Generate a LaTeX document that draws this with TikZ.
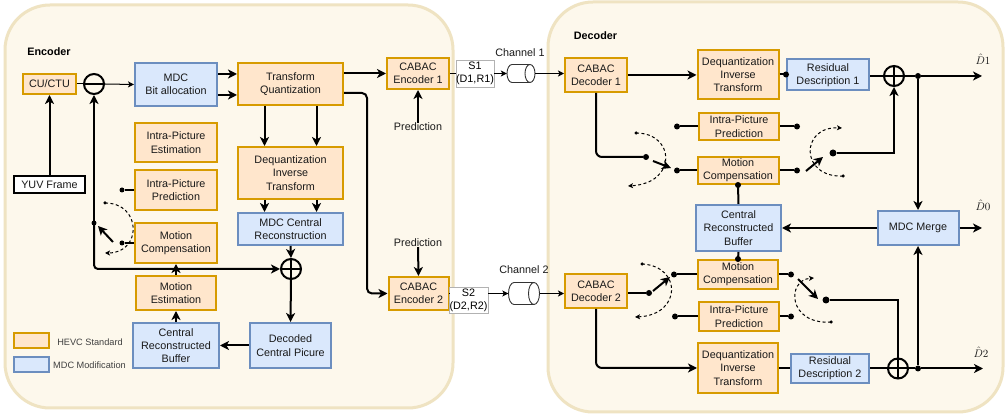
\documentclass[tikz,border=0pt]{standalone}
\usepackage{fontspec}
\setmainfont{Liberation Sans}
\usetikzlibrary{arrows.meta,calc}
\definecolor{hevcf}{HTML}{FFE6CC}
\definecolor{hevcd}{HTML}{D79B00}
\definecolor{mdcf}{HTML}{DAE8FC}
\definecolor{mdcd}{HTML}{6C8EBF}
\definecolor{panelf}{HTML}{FDF8EC}
\definecolor{paneld}{HTML}{EFE3C2}
\begin{document}
\begin{tikzpicture}[x=1pt,y=-1pt,font=\fontsize{10.8}{13.3}\selectfont,
 box/.style={draw,line width=2pt,align=center,inner sep=0pt,text=black!90},
 hevc/.style={box,draw=hevcd,fill=hevcf},
 mdc/.style={box,draw=mdcd,fill=mdcf},
 wh/.style 2 args={minimum width=#1pt,minimum height=#2pt},
 conn/.style={line width=2pt},
 sconn/.style={line width=1.5pt},
 arr/.style={-{Stealth[length=9pt,width=9pt,inset=2.5pt]}},
 tarr/.style={-{Stealth[length=6pt,width=6pt,inset=1.5pt]}},
 darr/.style={-{Stealth[length=5pt,width=5pt,inset=1.2pt]}},
 thinl/.style={line width=1pt},
 dsh/.style={line width=1pt,dash pattern=on 3pt off 2.5pt},
 sumc/.style={circle,draw,line width=2pt,minimum size=20pt,inner sep=0pt},
 dotc/.style={circle,fill,inner sep=0pt,minimum size=6pt},
 sdot/.style={circle,fill,inner sep=0pt,minimum size=3.5pt},
 lbl/.style={inner sep=0pt,text=black!90},
 slab/.style={draw=black!30,fill=white,line width=0.8pt,align=center,inner sep=0pt},
 title/.style={inner sep=0pt,font=\fontsize{10.8}{13}\selectfont\bfseries},
 leg/.style={inner sep=0pt,text=black!75,font=\fontsize{9.2}{11}\selectfont}
]
\useasboundingbox (0,0) rectangle (1005,419);
\fill[white] (0,0) rectangle (1005,419);
% panels
\draw[draw=paneld,fill=panelf,line width=3pt,rounded corners=45pt] (5,5) rectangle (453,408);
\draw[draw=paneld,fill=panelf,line width=3pt,rounded corners=45pt] (548,2) rectangle (1003,412);

% ===== Encoder =====
\node[title] (enclab) at (49,52) {Encoder};
\node[hevc,wh={53}{20}] (cu) at (49.5,84) {CU/CTU};
\node[sumc] (minus) at (94,84) {};
\draw[line width=2pt] (minus.west) -- (minus.east);
\node[box,draw=black,fill=white,wh={71}{17}] (yuv) at (49.5,185) {YUV Frame};
\node[mdc,wh={82}{43}] (mdcb) at (176,84.5) {MDC\\Bit allocation};
\node[hevc,wh={82}{39}] (ipe) at (176,142.5) {Intra-Picture\\Estimation};
\node[hevc,wh={82}{40}] (ipp) at (176,190) {Intra-Picture\\Prediction};
\node[hevc,wh={82}{40}] (mc) at (176,243) {Motion\\Compensation};
\node[hevc,wh={80}{34}] (me) at (176,293) {Motion\\Estimation};
\node[mdc,wh={86}{45}] (crb) at (176,345.5) {Central\\Reconstructed\\Buffer};
\node[hevc,wh={105}{42}] (tq) at (290.5,84) {Transform\\Quantization};
\node[hevc,wh={105}{52}] (dit) at (290.5,173) {Dequantization\\Inverse\\Transform};
\node[mdc,wh={105}{32}] (mcr) at (290.5,229) {MDC Central\\Reconstruction};
\node[sumc] (plus) at (291,269) {};
\draw[line width=2pt] (plus.west) -- (plus.east) (plus.north) -- (plus.south);
\node[mdc,wh={81}{45}] (dcp) at (290.5,345.5) {Decoded\\Central Picure};
\node[hevc,wh={62}{31}] (ce1) at (418,73.5) {CABAC\\Encoder 1};
\node[hevc,wh={60}{33}] (ce2) at (418.5,293.5) {CABAC\\Encoder 2};
\node[lbl] (pr1) at (418,127) {Prediction};
\node[lbl] (pr2) at (418,243) {Prediction};

% legend
\node[hevc,wh={35}{15}] (lg1) at (31.5,340.5) {};
\node[mdc,wh={35}{15}] (lg2) at (31.5,364.5) {};
\node[leg] (lgt1) at (90,342) {HEVC Standard};
\node[leg] (lgt2) at (89.5,365) {MDC Modification};

% encoder connectors
\draw[thinl] (cu.east) -- (minus.west);
\draw[thinl,tarr] (minus.east) -- (mdcb.west);
\draw[conn,arr] (yuv.north) -- (cu.south);
\draw[conn,arr] ([yshift=10.5pt]mdcb.east) -- ([yshift=10.5pt]mdcb.east -| tq.west);
\draw[conn,arr] ([yshift=-10.5pt]mdcb.east) -- ([yshift=-10.5pt]mdcb.east -| tq.west);
\draw[conn,arr] ([xshift=-26pt]tq.south) -- ([xshift=-26pt]tq.south |- dit.north);
\draw[conn,arr] ([xshift=26pt]tq.south) -- ([xshift=26pt]tq.south |- dit.north);
\draw[conn,arr] ([xshift=-26pt]dit.south) -- ([xshift=-26pt]dit.south |- mcr.north);
\draw[conn,arr] ([xshift=26pt]dit.south) -- ([xshift=26pt]dit.south |- mcr.north);
\draw[conn,arr] (mcr.south) -- (plus.north);
\draw[conn,arr] (plus.south) -- (dcp.north);
\draw[conn,arr] (dcp.west) -- (crb.east);
\draw[conn,arr] (crb.north) -- (me.south);
\draw[conn,arr] (me.north) -- (mc.south);
\draw[conn,arr] (tq.east |- ce1.west) -- (ce1.west);
\draw[conn,arr,rounded corners=5pt] ([yshift=-9pt]tq.east) -- ++(23,0) |- (ce2.west);
\draw[conn,arr] (pr1.north) -- (ce1.south);
\draw[conn,arr] (pr2.south) -- (ce2.north);

% encoder switch
\node[dotc,minimum size=5pt] (eswp) at (94,223) {};
\node[dotc,minimum size=5pt] (e1) at (122,190) {};
\node[dotc,minimum size=5pt] (e2) at (122,243) {};
\draw[sconn] (ipp.west) -- (e1);
\draw[sconn] (mc.west) -- (e2);
\draw[conn,arr] (minus.south |- eswp) -- (minus.south);
\draw[conn,arr,rounded corners=4pt] (minus.south |- eswp) |- (plus.west);
\coordinate (ea) at (113,242);
\coordinate (eb) at (98,226);
\draw[conn,arr] (ea) -- (eb);
\node[sdot] (ed1) at (105,203) {};
\coordinate (ed2) at (105,253);
\draw[dsh,darr] (ed1.center) .. controls (142,203) and (142,253) .. (ed2);

% S labels and channels
\node[slab,wh={38}{27}] (s1) at (475,73.5) {S1\\(D1,R1)};
\node[slab,wh={39}{26}] (s2) at (468.5,300) {S2\\(D2,R2)};
\node[inner sep=0pt,wh={28}{18}] (ch1) at (521,73.5) {};
\node[inner sep=0pt,wh={31}{22}] (ch2) at (524,293.5) {};
% cylinder 1
\draw[fill=white,draw=black!80,line width=0.9pt] (512,64.5) -- (530,64.5) arc[start angle=270,end angle=450,x radius=5,y radius=9] -- (512,82.5) arc[start angle=90,end angle=270,x radius=5,y radius=9] -- cycle;
\draw[draw=black!80,line width=0.9pt] (530,64.5) arc[start angle=270,end angle=90,x radius=5,y radius=9];
% cylinder 2
\draw[fill=white,draw=black!80,line width=0.9pt] (514,282.5) -- (534,282.5) arc[start angle=270,end angle=450,x radius=5.5,y radius=11] -- (514,304.5) arc[start angle=90,end angle=270,x radius=5.5,y radius=11] -- cycle;
\draw[draw=black!80,line width=0.9pt] (534,282.5) arc[start angle=270,end angle=90,x radius=5.5,y radius=11];
\node[lbl] (ch1l) at (520,53) {Channel 1};
\node[lbl] (ch2l) at (524,270) {Channel 2};
\draw[thinl] (ce1.east) -- (s1.west);
\draw[thinl,tarr] (s1.east) -- (ch1.west);
\draw[thinl] (ce2.east) -- (s2.west |- ce2.east);
\draw[thinl,tarr] (s2.east |- ce2.east) -- (ch2.west);

% ===== Decoder =====
\node[title] (declab) at (595.5,36) {Decoder};
\node[hevc,wh={62}{34}] (cd1) at (596,75) {CABAC\\Decoder 1};
\node[hevc,wh={62}{34}] (cd2) at (596,291) {CABAC\\Decoder 2};
\node[hevc,wh={81}{49}] (dit1) at (738,74.5) {Dequantization\\Inverse\\Transform};
\node[mdc,wh={82}{31}] (res1) at (828,75) {Residual\\Description 1};
\node[sumc] (pl1) at (894,76) {};
\draw[line width=2pt] (pl1.west) -- (pl1.east) (pl1.north) -- (pl1.south);
\node[hevc,wh={80}{27}] (ipp1) at (739,126.5) {Intra-Picture\\Prediction};
\node[hevc,wh={81}{27}] (mc1) at (738,170.5) {Motion\\Compensation};
\node[mdc,wh={85}{46}] (crbd) at (738.5,228) {Central\\Reconstructed\\Buffer};
\node[hevc,wh={80}{29}] (mc2) at (738,274.5) {Motion\\Compensation};
\node[hevc,wh={80}{29}] (ipp2) at (739,316.5) {Intra-Picture\\Prediction};
\node[hevc,wh={80}{50}] (dit2) at (738,368) {Dequantization\\Inverse\\Transform};
\node[mdc,wh={78}{29}] (res2) at (830,368.5) {Residual\\Description 2};
\node[sumc] (pl2) at (898,368.5) {};
\draw[line width=2pt] (pl2.west) -- (pl2.east) (pl2.north) -- (pl2.south);
\node[mdc,wh={81}{34}] (merge) at (918,228) {MDC Merge};
\node[lbl] (dh1) at (983,59) {$\hat{D}1$};
\node[lbl] (dh0) at (983,205) {$\hat{D}0$};
\node[lbl] (dh2) at (981,352) {$\hat{D}2$};

\draw[thinl,tarr] (ch1.east) -- (cd1.west |- ch1.east);
\draw[thinl,tarr] (ch2.east) -- (cd2.west |- ch2.east);

% decoder 1 chain
\draw[conn,arr] (cd1.east) -- (cd1.east -| dit1.west);
\draw[conn] (dit1.east) -- (dit1.east -| res1.west);
\node[dotc] (r1d) at (res1.west |- dit1.east) {};
\draw[conn] (res1.east |- pl1.west) -- (pl1.west);
\node[dotc] (o1) at (918,76) {};
\coordinate (o1e) at (982,76);
\draw[conn] (pl1.east) -- (o1);
\draw[conn,arr] (o1) -- (o1e);
\draw[conn,arr] (o1) -- (merge.north);

% decoder 1 switches
\node[dotc] (d1i) at (677,126.5) {};
\node[dotc] (d1m) at (677,170.5) {};
\node[dotc] (d1oi) at (797,126.5) {};
\node[dotc] (d1om) at (797,170.5) {};
\draw[conn] (ipp1.west) -- (d1i);
\draw[conn] (mc1.west) -- (d1m);
\draw[conn] (ipp1.east) -- (d1oi);
\draw[conn] (mc1.east) -- (d1om);
\node[dotc] (d1a) at (646,157) {};
\draw[conn,rounded corners=6pt] (cd1.south) |- (d1a);
\coordinate (s1a) at (653,161);
\coordinate (s1b) at (671,168);
\draw[conn,arr] (s1a) -- (s1b);
\node[sdot] (dd1) at (636,133) {};
\coordinate (dd1e) at (628,186);
\draw[dsh,darr] (dd1.center) .. controls (675,133) and (678,183) .. (dd1e);
\node[dotc,minimum size=7pt] (d1b) at (833,153) {};
\coordinate (s1c) at (806,171);
\coordinate (s1d) at (823,157);
\draw[conn,arr] (s1c) -- (s1d);
\draw[conn,arr] (d1b) -| (pl1.south);
\node[sdot] (dd2) at (843,176) {};
\coordinate (dd2e) at (842,128);
\draw[dsh,darr] (dd2.center) .. controls (800,178) and (800,126) .. (dd2e);

% central buffer links
\draw[conn] (crbd.north) -- (mc1.south);
\node[dotc] (cb1) at (mc1.south) {};
\draw[conn] (crbd.south) -- (mc2.north);
\node[dotc] (cb2) at (mc2.north) {};
\draw[conn,arr] (merge.west) -- (crbd.east);
\coordinate (o0e) at (982,228);
\draw[conn,arr] (merge.east) -- (o0e);

% decoder 2 switches
\node[dotc] (d2a) at (649,293) {};
\draw[conn] (cd2.east |- d2a) -- (d2a);
\coordinate (s2a) at (653,291);
\coordinate (s2b) at (670,277);
\draw[conn,arr] (s2a) -- (s2b);
\node[dotc] (d2m) at (674,274.5) {};
\node[dotc] (d2i) at (675,316.5) {};
\draw[conn] (mc2.west) -- (d2m);
\draw[conn] (ipp2.west) -- (d2i);
\node[sdot] (dd3) at (642,264) {};
\coordinate (dd3e) at (635,317);
\draw[dsh,darr] (dd3.center) .. controls (682,266) and (682,315) .. (dd3e);
\draw[conn,arr,rounded corners=6pt] (cd2.south) |- (dit2.west);
\node[dotc] (d2om) at (791,274.5) {};
\node[dotc] (d2oi) at (791,316.5) {};
\draw[conn] (mc2.east) -- (d2om);
\draw[conn] (ipp2.east) -- (d2oi);
\coordinate (s2c) at (798,279);
\coordinate (s2d) at (818,299);
\draw[conn,arr] (s2c) -- (s2d);
\node[dotc,minimum size=7pt] (d2b) at (826,300) {};
\draw[conn] (d2b) -| (pl2.north);
\node[sdot] (dd4) at (831,322) {};
\coordinate (dd4e) at (814,278);
\draw[dsh,darr] (dd4.center) .. controls (788,325) and (786,280) .. (dd4e);

% decoder 2 chain
\draw[conn] (dit2.east) -- (dit2.east -| res2.west);
\draw[conn] (res2.east |- pl2.west) -- (pl2.west);
\node[dotc] (o2) at (918,368.5) {};
\coordinate (o2e) at (983,368.5);
\draw[conn] (pl2.east) -- (o2);
\draw[conn,arr] (o2) -- (o2e);
\draw[conn,arr] (o2) -- (merge.south);
\end{tikzpicture}
\end{document}
